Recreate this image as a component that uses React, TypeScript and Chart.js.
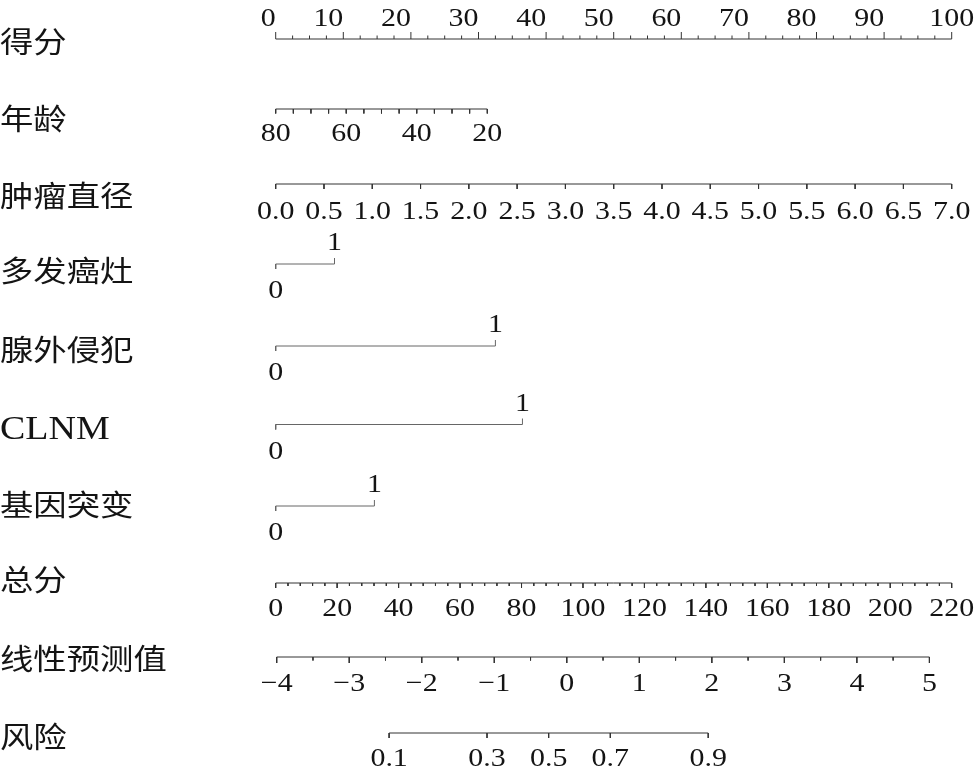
import React, { useEffect, useRef } from "react";
import { Chart, registerables } from "chart.js";

Chart.register(...registerables);

// ---------- data ----------
const rowNames = ["得分", "年龄", "肿瘤直径", "多发癌灶", "腺外侵犯", "CLNM", "基因突变", "总分", "线性预测值", "风险"];

const pointsLabels = [0, 10, 20, 30, 40, 50, 60, 70, 80, 90, 100];
const pointsMinorStep = 2.5;

const ageLabels = [80, 60, 40, 20];
const ageMinorStep = 5;
const ageRange = [80, 20];
const agePoints = [0, 31.3];

const diameterLabels = ["0.0", "0.5", "1.0", "1.5", "2.0", "2.5", "3.0", "3.5", "4.0", "4.5", "5.0", "5.5", "6.0", "6.5", "7.0"];
const diameterRange = [0, 7];
const diameterPoints = [0, 100];

const binaryNames = ["多发癌灶", "腺外侵犯", "CLNM", "基因突变"];
const binaryPointsFor1 = [8.7, 32.5, 36.5, 14.6];

const totalLabels = [0, 20, 40, 60, 80, 100, 120, 140, 160, 180, 200, 220];
const totalMinorStep = 4;
const totalRange = [0, 220];
const totalPoints = [0, 100];

const lpLabels = [-4, -3, -2, -1, 0, 1, 2, 3, 4, 5];
const lpMinorStep = 0.5;
const lpRange = [-4, 5];
const lpPoints = [0.15, 96.7];

const riskLabels = ["0.1", "0.3", "0.5", "0.7", "0.9"];
const riskLinearPredictor = [-2.45, -1.1, -0.25, 0.6, 1.95];

// ---------- layout ----------
const W = 977;
const H = 773;
const PX_PER_POINT = 6.76;
const ZERO_PX = 275.7;
const X_MIN = -ZERO_PX / PX_PER_POINT;
const X_MAX = X_MIN + W / PX_PER_POINT;
const STRETCH = 1.15;

const lineY = { points: 39, age: 109, diameter: 184, binary: [264, 346, 424.5, 506], total: 583, lp: 657, risk: 733 };
const rowLabelY = [42, 119, 196, 271, 350, 428, 505, 580, 659, 737];
const BELOW = 33;
const ABOVE = 13;

const NUM_FONT = '26px "Liberation Serif"';
const CJK_FONT = '29px "Noto Sans CJK SC"';
const LATIN_ROW_FONT = '33px "Liberation Serif"';
const AXIS_COLOR = "#333";
const BIN_COLOR = "#666";
const TEXT_COLOR = "#141414";

const lin = (v: number, r: number[], p: number[]) => p[0] + ((v - r[0]) / (r[1] - r[0])) * (p[1] - p[0]);
const steps = (a: number, b: number, s: number) => {
  const out: number[] = [];
  const lo = Math.min(a, b), hi = Math.max(a, b);
  const n = Math.round((hi - lo) / s);
  for (let i = 0; i <= n; i++) out.push(lo + i * s);
  return out;
};
const near = (v: number, arr: number[]) => arr.some((a) => Math.abs(a - v) < 1e-6);

type Tick = { p: number; len: number };
type Label = { p: number; y: number; text: string; align: CanvasTextAlign };
type Axis = { y: number; from: number; to: number; ticks: Tick[]; labels: Label[]; color: string };

function buildAxes(): Axis[] {
  const axes: Axis[] = [];
  // points
  axes.push({
    y: lineY.points, from: 0, to: 100, color: AXIS_COLOR,
    ticks: steps(0, 100, pointsMinorStep).map((v) => ({ p: v, len: near(v, pointsLabels) ? -7 : -3.5 })),
    labels: pointsLabels.map((v, i) => ({
      p: v, y: lineY.points - ABOVE, text: String(v),
      align: (i === pointsLabels.length - 1 ? "center" : "right") as CanvasTextAlign,
    })),
  });
  // age
  axes.push({
    y: lineY.age, from: agePoints[0], to: agePoints[1], color: AXIS_COLOR,
    ticks: steps(ageRange[0], ageRange[1], ageMinorStep).map((v) => ({ p: lin(v, ageRange, agePoints), len: 4.5 })),
    labels: ageLabels.map((v) => ({ p: lin(v, ageRange, agePoints), y: lineY.age + BELOW - 1, text: String(v), align: "center" as CanvasTextAlign })),
  });
  // diameter
  axes.push({
    y: lineY.diameter, from: diameterPoints[0], to: diameterPoints[1], color: AXIS_COLOR,
    ticks: diameterLabels.map((t) => ({ p: lin(parseFloat(t), diameterRange, diameterPoints), len: 5 })),
    labels: diameterLabels.map((t) => ({ p: lin(parseFloat(t), diameterRange, diameterPoints), y: lineY.diameter + BELOW + 2, text: t, align: "center" as CanvasTextAlign })),
  });
  // binary
  binaryNames.forEach((_, i) => {
    const y = lineY.binary[i];
    axes.push({
      y, from: 0, to: binaryPointsFor1[i], color: BIN_COLOR,
      ticks: [{ p: 0, len: 5 }, { p: binaryPointsFor1[i], len: -6 }],
      labels: [
        { p: 0, y: y + BELOW + 1, text: "0", align: "center" },
        { p: binaryPointsFor1[i], y: y - ABOVE - 1, text: "1", align: "center" },
      ],
    });
  });
  // total
  axes.push({
    y: lineY.total, from: totalPoints[0], to: totalPoints[1], color: AXIS_COLOR,
    ticks: steps(0, 220, totalMinorStep).map((v) => ({ p: lin(v, totalRange, totalPoints), len: near(v, totalLabels) ? 5 : 3 })),
    labels: totalLabels.map((v) => ({ p: lin(v, totalRange, totalPoints), y: lineY.total + BELOW, text: String(v), align: "center" as CanvasTextAlign })),
  });
  // linear predictor
  axes.push({
    y: lineY.lp, from: lpPoints[0], to: lpPoints[1], color: AXIS_COLOR,
    ticks: steps(-4, 5, lpMinorStep).map((v) => ({ p: lin(v, lpRange, lpPoints), len: near(v, lpLabels) ? 6 : 3.5 })),
    labels: lpLabels.map((v) => ({ p: lin(v, lpRange, lpPoints), y: lineY.lp + BELOW + 1, text: v < 0 ? "\u2212" + Math.abs(v) : String(v), align: "center" as CanvasTextAlign })),
  });
  // risk
  const riskPts = riskLinearPredictor.map((v) => lin(v, lpRange, lpPoints));
  axes.push({
    y: lineY.risk, from: riskPts[0], to: riskPts[riskPts.length - 1], color: AXIS_COLOR,
    ticks: riskPts.map((p) => ({ p, len: 5 })),
    labels: riskLabels.map((t, i) => ({ p: riskPts[i], y: lineY.risk + BELOW, text: t, align: "center" as CanvasTextAlign })),
  });
  return axes;
}

export default function App() {
  const ref = useRef<HTMLCanvasElement | null>(null);
  useEffect(() => {
    const canvas = ref.current;
    if (!canvas) return;
    const axes = buildAxes();
    const datasets = axes.map((a) => {
      const data: any[] = [{ x: a.from, y: a.y }, { x: a.to, y: a.y }, { x: a.to, y: null }];
      a.ticks.forEach((t) => {
        data.push({ x: t.p, y: a.y }, { x: t.p, y: a.y + t.len }, { x: t.p, y: null });
      });
      return {
        data, borderColor: a.color, borderWidth: 1, pointRadius: 0, tension: 0, spanGaps: false, fill: false,
      };
    });

    const textPlugin = {
      id: "nomoText",
      afterDatasetsDraw(chart: any) {
        const ctx = chart.ctx as CanvasRenderingContext2D;
        const xs = chart.scales.x;
        const ys = chart.scales.y;
        const draw = (text: string, x: number, y: number, font: string, align: CanvasTextAlign, base: CanvasTextBaseline) => {
          ctx.save();
          ctx.fillStyle = TEXT_COLOR;
          ctx.font = font;
          ctx.textAlign = align;
          ctx.textBaseline = base;
          ctx.translate(x, y);
          ctx.scale(STRETCH, 1);
          ctx.fillText(text, 0, 0);
          ctx.restore();
        };
        axes.forEach((a) => {
          a.labels.forEach((l) => {
            draw(l.text, xs.getPixelForValue(l.p), ys.getPixelForValue(l.y), NUM_FONT, l.align, "alphabetic");
          });
        });
        rowNames.forEach((n, i) => {
          const latin = /^[A-Za-z]+$/.test(n);
          draw(n, 0, ys.getPixelForValue(rowLabelY[i]) + (latin ? 11 : 0), latin ? LATIN_ROW_FONT : CJK_FONT, "left", latin ? "alphabetic" : "middle");
        });
      },
    };

    const chart = new Chart(canvas, {
      type: "line",
      data: { datasets },
      options: {
        responsive: false,
        devicePixelRatio: 1,
        animation: false,
        layout: { padding: 0 },
        parsing: true,
        scales: {
          x: { type: "linear", min: X_MIN, max: X_MAX, display: false },
          y: { type: "linear", min: 0, max: H, reverse: true, display: false },
        },
        plugins: { legend: { display: false }, tooltip: { enabled: false } },
        events: [],
      },
      plugins: [textPlugin],
    } as any);
    return () => chart.destroy();
  }, []);
  return (
    <div style={{ position: "absolute", left: 0, top: 0, width: W, height: H, background: "#fff" }}>
      <canvas ref={ref} width={W} height={H} style={{ display: "block" }} />
    </div>
  );
}
